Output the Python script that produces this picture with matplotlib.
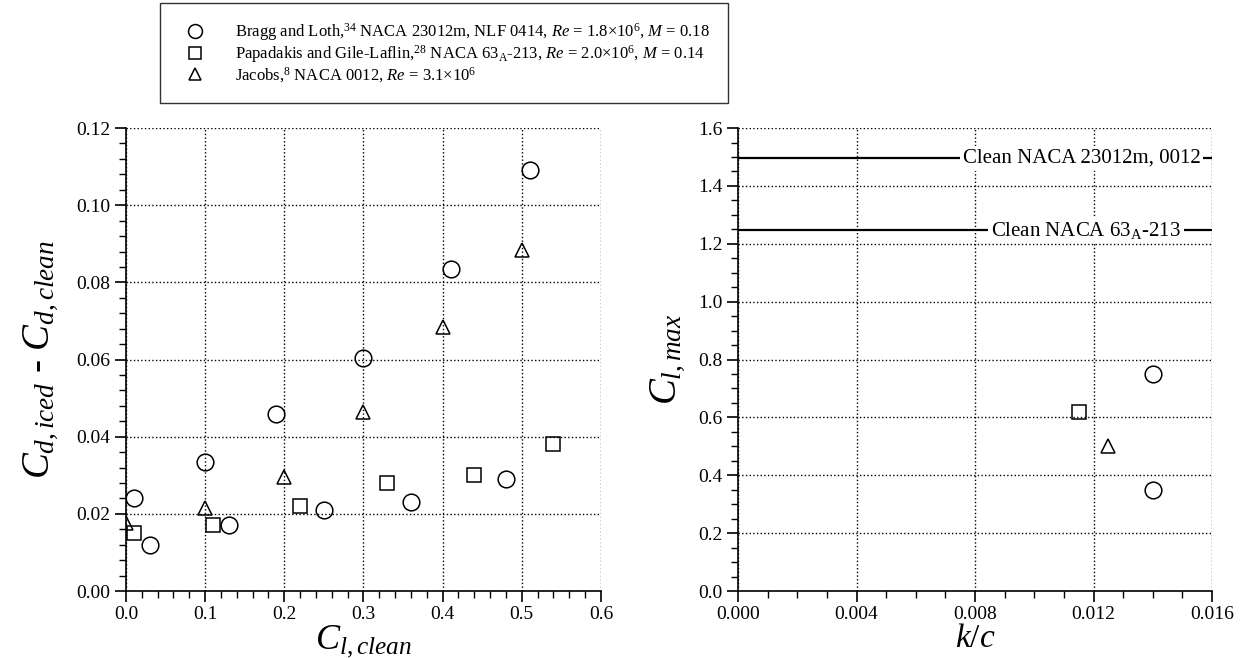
import numpy as np
import matplotlib.pyplot as plt
from matplotlib.ticker import MultipleLocator, FormatStrFormatter
from matplotlib.lines import Line2D

plt.rcParams['font.family'] = ['Liberation Serif', 'DejaVu Serif']
plt.rcParams['mathtext.fontset'] = 'custom'
plt.rcParams['mathtext.rm'] = 'Liberation Serif'
plt.rcParams['mathtext.it'] = 'Liberation Serif:italic'
plt.rcParams['mathtext.bf'] = 'Liberation Serif:bold'

# left panel: drag increase vs clean lift
bragg_cl = [0.01, 0.03, 0.10, 0.13, 0.19, 0.25, 0.30, 0.36, 0.41, 0.48, 0.51]
bragg_dcd = [0.024, 0.012, 0.0335, 0.017, 0.046, 0.021, 0.0605, 0.023, 0.0835, 0.029, 0.109]
papa_cl = [0.01, 0.11, 0.22, 0.33, 0.44, 0.54]
papa_dcd = [0.015, 0.017, 0.022, 0.028, 0.030, 0.038]
jacobs_cl = [0.0, 0.10, 0.20, 0.30, 0.40, 0.50]
jacobs_dcd = [0.0175, 0.0215, 0.0295, 0.0465, 0.0685, 0.0885]

# right panel: Cl,max vs k/c
bragg_kc = [0.0140, 0.0140]
bragg_clmax = [0.75, 0.35]
papa_kc = [0.0115]
papa_clmax = [0.62]
jacobs_kc = [0.0125]
jacobs_clmax = [0.50]
clean_levels = [1.495, 1.247]
clean_labels = ['Clean NACA 23012m, 0012', 'Clean NACA 63$_\\mathrm{A}$-213']
clean_label_x = [0.0116, 0.01175]

legend_labels = [
    'Bragg and Loth,$^{34}$ NACA 23012m, NLF 0414, $Re$ = 1.8\u00d710$^{6}$, $M$ = 0.18',
    'Papadakis and Gile-Laflin,$^{28}$ NACA 63$_\\mathrm{A}$-213, $Re$ = 2.0\u00d710$^{6}$, $M$ = 0.14',
    'Jacobs,$^{8}$ NACA 0012, $Re$ = 3.1\u00d710$^{6}$',
]

mk = dict(linestyle='none', markerfacecolor='none', markeredgecolor='black', markeredgewidth=1.1)

fig = plt.figure(figsize=(12.45, 6.58), dpi=100)
ax1 = fig.add_axes([0.1012, 0.1018, 0.3815, 0.7036])
ax2 = fig.add_axes([0.5928, 0.1018, 0.3807, 0.7036])

ax1.plot(bragg_cl, bragg_dcd, marker='o', markersize=12, **mk)
ax1.plot(papa_cl, papa_dcd, marker='s', markersize=10, **mk)
ax1.plot(jacobs_cl, jacobs_dcd, marker='^', markersize=10, **mk)
ax1.set_xlim(0, 0.6)
ax1.set_ylim(0, 0.12)
ax1.xaxis.set_major_locator(MultipleLocator(0.1))
ax1.xaxis.set_minor_locator(MultipleLocator(0.02))
ax1.yaxis.set_major_locator(MultipleLocator(0.02))
ax1.yaxis.set_minor_locator(MultipleLocator(0.004))
ax1.xaxis.set_major_formatter(FormatStrFormatter('%.1f'))
ax1.yaxis.set_major_formatter(FormatStrFormatter('%.2f'))
ax1.set_xlabel('$C_{l,clean}$', fontsize=26, labelpad=0)
ax1.set_ylabel('$C_{d,iced}$ - $C_{d,clean}$', fontsize=28, labelpad=12)

for lvl, lab, lx in zip(clean_levels, clean_labels, clean_label_x):
    ax2.axhline(lvl, color='black', linewidth=1.6, zorder=3)
    ax2.text(lx, lvl, lab, fontsize=15, ha='center', va='center', zorder=4,
             bbox=dict(facecolor='white', edgecolor='none', pad=2))
ax2.plot(bragg_kc, bragg_clmax, marker='o', markersize=12, **mk)
ax2.plot(papa_kc, papa_clmax, marker='s', markersize=10, **mk)
ax2.plot(jacobs_kc, jacobs_clmax, marker='^', markersize=10, **mk)
ax2.set_xlim(0, 0.016)
ax2.set_ylim(0, 1.6)
ax2.xaxis.set_major_locator(MultipleLocator(0.004))
ax2.xaxis.set_minor_locator(MultipleLocator(0.001))
ax2.yaxis.set_major_locator(MultipleLocator(0.2))
ax2.yaxis.set_minor_locator(MultipleLocator(0.05))
ax2.xaxis.set_major_formatter(FormatStrFormatter('%.3f'))
ax2.yaxis.set_major_formatter(FormatStrFormatter('%.1f'))
ax2.set_xlabel('$k/c$', fontsize=24, labelpad=0)
ax2.set_ylabel('$C_{l,max}$', fontsize=28, labelpad=8)

for ax in (ax1, ax2):
    ax.grid(True, which='major', color='black', linestyle=':', linewidth=1.0)
    ax.spines['top'].set_visible(False)
    ax.spines['right'].set_visible(False)
    ax.spines['left'].set_linewidth(1.2)
    ax.spines['bottom'].set_linewidth(1.2)
    ax.tick_params(which='major', direction='out', length=8, width=1.2, labelsize=14, pad=3)
    ax.tick_params(which='minor', direction='out', length=5, width=1.0)
    ax.set_axisbelow(True)

handles = [Line2D([], [], marker='o', markersize=10, **mk),
           Line2D([], [], marker='s', markersize=8, **mk),
           Line2D([], [], marker='^', markersize=8, **mk)]
leg = fig.legend(handles, legend_labels, loc='upper left', bbox_to_anchor=(160/1245, 1 - 3/658),
                 fontsize=12, frameon=True, fancybox=False, edgecolor='black',
                 borderaxespad=0, handletextpad=1.4, borderpad=1.1, labelspacing=0.0,
                 handlelength=2.0)
leg.get_frame().set_linewidth(1.0)

fig.savefig('out.png', dpi=100)
